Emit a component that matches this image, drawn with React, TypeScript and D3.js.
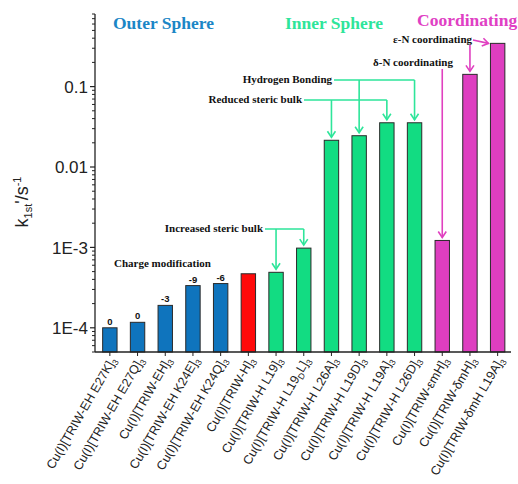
import React from "react";
import * as d3 from "d3";

const categories = [
  "E27K", "E27Q", "EH", "K24E", "K24Q", "H", "L19", "L19DL", "L26A", "L19D", "L19A", "L26D", "emH", "dmH", "dmHL19A",
];
const labelMain = [
  "Cu(I)[TRIW-EH E27K]", "Cu(I)[TRIW-EH E27Q]", "Cu(I)[TRIW-EH]", "Cu(I)[TRIW-EH K24E]", "Cu(I)[TRIW-EH K24Q]",
  "Cu(I)[TRIW-H]", "Cu(I)[TRIW-H L19]", "Cu(I)[TRIW-H L19", "Cu(I)[TRIW-H L26A]", "Cu(I)[TRIW-H L19D]",
  "Cu(I)[TRIW-H L19A]", "Cu(I)[TRIW-H L26D]", "Cu(I)[TRIW-εmH]", "Cu(I)[TRIW-δmH]", "Cu(I)[TRIW-δmH L19A]",
];
const values = [
  1.0e-4, 1.17e-4, 1.9e-4, 3.35e-4, 3.55e-4, 4.7e-4, 4.9e-4, 9.8e-4, 0.0215, 0.0245, 0.0355, 0.0355, 1.22e-3, 0.142, 0.345,
];
const groups = ["outer", "outer", "outer", "outer", "outer", "wt", "inner", "inner", "inner", "inner", "inner", "inner", "coord", "coord", "coord"];
const chargeLabels = ["0", "0", "-3", "-9", "-6"];
const yTicks = [1e-4, 1e-3, 0.01, 0.1];
const yTickLabels = ["1E-4", "1E-3", "0.01", "0.1"];

const colors: Record<string, string> = {
  outer: "#0f74bd",
  wt: "#ff0a0a",
  inner: "#12dc82",
  coord: "#de3ec0",
};
const GREEN = "#2ee59a";
const MAG = "#e040c0";

const X0 = 95, X1 = 511, Y0 = 352, YT = 14;

function arrowHead(x: number, y: number, dx: number, dy: number, color: string, key: string) {
  const len = Math.hypot(dx, dy);
  const ux = dx / len, uy = dy / len;
  const px = -uy, py = ux;
  const L = 6, W = 4;
  const d = `M${x - ux * L + px * W},${y - uy * L + py * W}L${x},${y}L${x - ux * L - px * W},${y - uy * L - py * W}`;
  return <path key={key} d={d} fill="none" stroke={color} strokeWidth={1.6} />;
}

export default function App() {
  const x = d3.scaleBand<string>().domain(categories).range([96, 511.5]).paddingInner(0.48).paddingOuter(0.24);
  const y = d3.scaleLog().domain([5e-5, 0.8]).range([Y0, YT]);
  const cx = (i: number) => (x(categories[i]) as number) + x.bandwidth() / 2;
  const top = (i: number) => y(values[i]);

  const minor: number[] = [];
  for (let e = -5; e <= -1; e++) {
    for (let m = 2; m <= 9; m++) {
      const v = m * Math.pow(10, e);
      if (v >= 5e-5 && v <= 0.8) minor.push(v);
    }
  }

  const serif = "'Liberation Serif', 'Times New Roman', serif";
  const sans = "'Liberation Sans', Arial, sans-serif";
  const annFont = { fontFamily: serif, fontWeight: 700, fontSize: 11 } as const;

  const g = 3;
  const els: React.ReactNode[] = [];

  {
    const ly = 229;
    els.push(<path key="isb" d={`M265,${ly}H${cx(7)}M${cx(6)},${ly}V${top(6) - g}M${cx(7)},${ly}V${top(7) - g}`} fill="none" stroke={GREEN} strokeWidth={1.6} />);
    els.push(arrowHead(cx(6), top(6) - g, 0, 1, GREEN, "isb1"));
    els.push(arrowHead(cx(7), top(7) - g, 0, 1, GREEN, "isb2"));
  }
  {
    const ly = 100;
    els.push(<path key="rsb" d={`M304,${ly}H${cx(10)}M${cx(8)},${ly}V${top(8) - g}M${cx(10)},${ly}V${top(10) - g}`} fill="none" stroke={GREEN} strokeWidth={1.6} />);
    els.push(arrowHead(cx(8), top(8) - g, 0, 1, GREEN, "rsb1"));
    els.push(arrowHead(cx(10), top(10) - g, 0, 1, GREEN, "rsb2"));
  }
  {
    const ly = 80;
    els.push(<path key="hb" d={`M334,${ly}H${cx(11)}M${cx(9)},${ly}V${top(9) - g}M${cx(11)},${ly}V${top(11) - g}`} fill="none" stroke={GREEN} strokeWidth={1.6} />);
    els.push(arrowHead(cx(9), top(9) - g, 0, 1, GREEN, "hb1"));
    els.push(arrowHead(cx(11), top(11) - g, 0, 1, GREEN, "hb2"));
  }
  els.push(<path key="dn" d={`M${cx(12)},69V${top(12) - g}`} fill="none" stroke={MAG} strokeWidth={1.6} />);
  els.push(arrowHead(cx(12), top(12) - g, 0, 1, MAG, "dn1"));
  {
    const tx = (x(categories[14]) as number) - 2;
    const ty = top(14);
    els.push(<path key="en" d={`M473,40L${tx},${ty}M${cx(13)},45V${top(13) - g}`} fill="none" stroke={MAG} strokeWidth={1.6} />);
    els.push(arrowHead(tx, ty, tx - 473, ty - 40, MAG, "en1"));
    els.push(arrowHead(cx(13), top(13) - g, 0, 1, MAG, "en2"));
  }

  return (
    <svg width={518} height={484} style={{ position: "absolute", left: 0, top: 0, background: "#fff" }}>
      {categories.map((c, i) => (
        <rect key={c} x={x(c)} y={top(i)} width={x.bandwidth()} height={Y0 - top(i)} fill={colors[groups[i]]} stroke="#2a2a2a" strokeWidth={1} />
      ))}
      {chargeLabels.map((t, i) => (
        <text key={"cl" + i} x={cx(i)} y={top(i) - 3} textAnchor="middle" fontFamily={sans} fontWeight={700} fontSize={9.5} fill="#111">{t}</text>
      ))}
      <line x1={X0} x2={X0} y1={YT} y2={Y0} stroke="#222" strokeWidth={1.3} />
      <line x1={X0} x2={X1} y1={Y0} y2={Y0} stroke="#222" strokeWidth={1.3} />
      {yTicks.map((t, i) => (
        <g key={"yt" + i}>
          <line x1={X0 - 5} x2={X0} y1={y(t)} y2={y(t)} stroke="#222" strokeWidth={1.2} />
          <text x={88} y={y(t)} dy="0.36em" textAnchor="end" fontFamily={sans} fontSize={17} fill="#222">{yTickLabels[i]}</text>
        </g>
      ))}
      {minor.map((t, i) => (
        <line key={"ym" + i} x1={X0 - 3} x2={X0} y1={y(t)} y2={y(t)} stroke="#222" strokeWidth={1} />
      ))}
      {categories.map((c, i) => (
        <line key={"xt" + i} x1={cx(i)} x2={cx(i)} y1={Y0} y2={Y0 + 4} stroke="#222" strokeWidth={1} />
      ))}
      {categories.map((c, i) => (
        <text key={"xl" + i} transform={`translate(${cx(i) + 3},${Y0 + 6}) rotate(-60)`} textAnchor="end" dy="0.35em" fontFamily={sans} fontSize={12.5} fill="#222">
          {i === 7 ? (
            <>
              {labelMain[i]}
              <tspan fontSize={8.5} dy="3">D</tspan>
              <tspan dy="-3">L]</tspan>
              <tspan fontSize={8.5} dy="3">3</tspan>
            </>
          ) : (
            <>
              {labelMain[i]}
              <tspan fontSize={8.5} dy="3">3</tspan>
            </>
          )}
        </text>
      ))}
      <text transform="translate(28,202) rotate(-90)" textAnchor="middle" fontFamily={sans} fontSize={18} fill="#222">
        k<tspan fontSize={11} dy="4">1st</tspan><tspan dy="-4">'/s</tspan><tspan fontSize={11} dy="-7">-1</tspan>
      </text>
      <text x={113} y={29} fontFamily={serif} fontWeight={700} fontSize={17.5} fill="#1b86c6">Outer Sphere</text>
      <text x={285} y={29} fontFamily={serif} fontWeight={700} fontSize={17.5} fill="#2ee59a">Inner Sphere</text>
      <text x={417} y={26} fontFamily={serif} fontWeight={700} fontSize={17.5} fill="#e040c4">Coordinating</text>
      <text x={114} y={267} {...annFont} fill="#111">Charge modification</text>
      <text x={263} y={232} textAnchor="end" {...annFont} fill="#111">Increased steric bulk</text>
      <text x={302} y={103} textAnchor="end" {...annFont} fill="#111">Reduced steric bulk</text>
      <text x={332} y={83} textAnchor="end" {...annFont} fill="#111">Hydrogen Bonding</text>
      <text x={453} y={66} textAnchor="end" {...annFont} fill="#111">δ-N coordinating</text>
      <text x={472} y={43} textAnchor="end" {...annFont} fill="#111">ε-N coordinating</text>
      {els}
    </svg>
  );
}
